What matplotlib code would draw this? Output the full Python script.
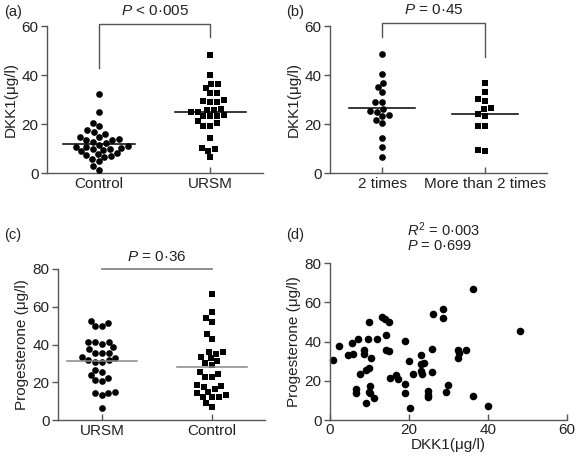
import numpy as np
import pandas as pd
import matplotlib
matplotlib.use('Agg')
import matplotlib.pyplot as plt
import seaborn as sns

plt.rcParams['font.family'] = ['Liberation Sans', 'DejaVu Sans']
plt.rcParams['font.size'] = 10
plt.rcParams['mathtext.fontset'] = 'custom'
plt.rcParams['mathtext.rm'] = 'Liberation Sans'
plt.rcParams['mathtext.it'] = 'Liberation Sans:italic'

# (a) DKK1 by group
a_groups = ['Control', 'URSM']
a_control = [32.3, 24.8, 20.4, 19.2, 17.4, 16.6, 15.8, 14.8, 14.6, 13.8, 13.6, 13.5,
             12.8, 12.2, 11.5, 11.0, 10.8, 10.5, 10.2, 10.0, 9.6, 9.2, 8.8, 8.0,
             7.6, 7.2, 6.8, 6.5, 5.8, 4.7, 2.7, 1.1]
a_ursm = [48.2, 40.0, 36.3, 36.3, 34.6, 32.5, 32.5, 29.8, 28.8, 28.8, 29.3, 26.1,
          25.7, 25.9, 25.0, 25.0, 23.3, 23.3, 23.3, 23.7, 21.2, 20.3, 19.2, 19.2,
          14.2, 9.7, 10.3, 9.0, 6.4]
a_lines = [11.8, 25.0]

# (b) DKK1 by number of miscarriages
b_groups = ['2 times', 'More than 2 times']
b_two = [48.6, 40.3, 36.6, 35.0, 32.9, 29.1, 29.1, 26.0, 25.3, 25.0, 23.3, 23.8,
         21.6, 20.3, 14.4, 10.5, 6.7]
b_more = [36.6, 32.9, 30.1, 29.5, 26.0, 26.4, 24.1, 23.3, 19.2, 19.2, 9.0, 9.4]
b_lines = [26.4, 23.9]

# (c) progesterone by group
c_groups = ['URSM', 'Control']
c_ursm = [51.2, 49.8, 49.8, 52.6, 41.5, 41.2, 38.5, 37.6, 40.3, 41.5, 35.7, 35.3,
          33.0, 31.8, 31.8, 33.6, 35.7, 30.9, 30.9, 26.5, 25.6, 22.1, 20.8, 21.2,
          23.9, 15.0, 14.1, 13.2, 14.5, 6.2]
c_control = [66.8, 57.4, 54.2, 52.1, 42.9, 45.6, 33.2, 36.2, 35.0, 36.2, 32.7, 31.4,
             29.1, 30.4, 25.6, 22.9, 22.9, 24.4, 18.5, 17.7, 18.0, 16.2, 15.0, 13.2,
             12.0, 14.1, 12.0, 12.0, 8.8, 7.1]
c_lines = [31.4, 27.9]

# (d) DKK1 vs progesterone
d_dkk1 = [0.8, 2.3, 5.5, 4.6, 5.7, 6.5, 6.6, 7.2, 8.5, 8.6, 7.6, 9.1, 9.8, 9.5, 9.9,
          10.3, 9.9, 9.1, 10.1, 10.1, 11.0, 12.0, 13.1, 14.0, 14.8, 14.1, 14.1, 14.8,
          15.2, 16.7, 17.3, 19.0, 19.0, 19.0, 20.0, 21.0, 20.3, 23.0, 23.1, 23.2,
          23.7, 23.1, 24.9, 24.9, 24.9, 25.8, 25.8, 26.0, 28.7, 28.7, 29.4, 29.8,
          32.5, 32.5, 32.7, 34.5, 36.2, 36.2, 39.9, 48.2]
d_prog = [30.5, 37.6, 39.0, 33.0, 33.6, 15.6, 13.6, 41.5, 35.6, 33.4, 23.7, 25.4,
          26.3, 41.5, 50.0, 31.4, 14.4, 8.5, 17.3, 13.6, 11.0, 41.2, 52.5, 51.4,
          50.0, 43.2, 35.6, 35.3, 21.2, 22.9, 20.7, 18.6, 13.9, 40.2, 30.0, 23.7,
          5.9, 28.3, 24.9, 23.4, 29.2, 33.0, 14.9, 12.7, 11.9, 36.4, 24.6, 53.9,
          56.8, 52.2, 14.4, 17.8, 35.9, 31.7, 34.2, 35.9, 67.0, 12.2, 7.1, 45.4]

spine_c = '#555555'
text_c = '#222222'
fs = 11
ms = 4.8


def style(ax):
    for s in ['top', 'right']:
        ax.spines[s].set_visible(False)
    for s in ['left', 'bottom']:
        ax.spines[s].set_color(spine_c)
        ax.spines[s].set_linewidth(1.0)
    ax.tick_params(colors=spine_c, labelcolor=text_c, labelsize=fs, length=4, width=1)
    ax.tick_params(axis='x', direction='in', pad=3)
    ax.tick_params(axis='y', pad=2)


def swarm(ax, groups, vals1, vals2, lines, line_c):
    df = pd.DataFrame({'g': [groups[0]] * len(vals1) + [groups[1]] * len(vals2),
                       'v': list(vals1) + list(vals2)})
    sns.swarmplot(data=df[df.g == groups[0]], x='g', y='v', order=groups, ax=ax,
                  color='k', marker='o', size=ms, linewidth=0)
    sns.swarmplot(data=df[df.g == groups[1]], x='g', y='v', order=groups, ax=ax,
                  color='k', marker='s', size=ms, linewidth=0)
    for i, m in enumerate(lines):
        ax.plot([i - 0.32, i + 0.32], [m, m], color=line_c, lw=1.1, zorder=3)
    ax.set_xlabel('')


fig = plt.figure(figsize=(5.76, 4.61), dpi=100)

# (a)
ax = fig.add_axes([0.0816, 0.6247, 0.3754, 0.3189])
swarm(ax, a_groups, a_control, a_ursm, a_lines, 'k')
ax.set_ylim(0, 60)
ax.set_yticks([0, 20, 40, 60])
ax.set_xlim(-0.466, 1.476)
ax.set_ylabel('DKK1(\u03bcg/l)', color=text_c, fontsize=fs, labelpad=3)
style(ax)
ax.plot([0, 0, 1, 1], [42.8, 60.8, 60.8, 55.4], color=spine_c, lw=1, clip_on=False)
ax.text(0.5, 66, '$P$ < 0\u00b7005', ha='center', va='center', fontsize=fs,
        color=text_c, clip_on=False)

# (b)
ax = fig.add_axes([0.573, 0.6247, 0.377, 0.3189])
swarm(ax, b_groups, b_two, b_more, b_lines, 'k')
ax.set_ylim(0, 60)
ax.set_yticks([0, 20, 40, 60])
ax.set_xlim(-0.506, 1.604)
ax.set_ylabel('DKK1(\u03bcg/l)', color=text_c, fontsize=fs, labelpad=3)
style(ax)
ax.plot([0, 0, 1, 1], [55.5, 61.4, 61.4, 47.5], color=spine_c, lw=1, clip_on=False)
ax.text(0.5, 66.5, '$P$ = 0\u00b745', ha='center', va='center', fontsize=fs,
        color=text_c, clip_on=False)

# (c)
ax = fig.add_axes([0.1007, 0.0889, 0.3594, 0.3276])
swarm(ax, c_groups, c_ursm, c_control, c_lines, '#888888')
ax.set_ylim(0, 80)
ax.set_yticks([0, 20, 40, 60, 80])
ax.set_xlim(-0.40, 1.483)
ax.set_ylabel('Progesterone (\u03bcg/l)', color=text_c, fontsize=fs, labelpad=3)
style(ax)
ax.plot([0, 1], [79.8, 79.8], color='#888888', lw=1.3, clip_on=False)
ax.text(0.5, 86.5, '$P$ = 0\u00b736', ha='center', va='center', fontsize=fs,
        color=text_c, clip_on=False)

# (d)
ax = fig.add_axes([0.573, 0.0889, 0.4115, 0.3406])
ax.scatter(d_dkk1, d_prog, s=ms ** 2 * 1.3, color='k', linewidths=0, clip_on=False)
ax.set_xlim(0, 60)
ax.set_ylim(0, 80)
ax.set_xticks([0, 20, 40, 60])
ax.set_yticks([0, 20, 40, 60, 80])
ax.set_xlabel('DKK1(\u03bcg/l)', color=text_c, fontsize=fs, labelpad=1)
ax.set_ylabel('Progesterone (\u03bcg/l)', color=text_c, fontsize=fs, labelpad=3)
style(ax)
ax.tick_params(axis='x', pad=2)
ax.text(19.4, 96.8, '$R^2$ = 0\u00b7003', ha='left', va='center', fontsize=10.5,
        color=text_c, clip_on=False)
ax.text(19.4, 88.6, '$P$ = 0\u00b7699', ha='left', va='center', fontsize=10.5,
        color=text_c, clip_on=False)

# panel letters
for lab, x, y in [('(a)', 0.008, 0.975), ('(b)', 0.497, 0.975),
                  ('(c)', 0.008, 0.49), ('(d)', 0.497, 0.49)]:
    fig.text(x, y, lab, ha='left', va='center', fontsize=10.5, color=text_c)

fig.savefig('out.png', dpi=100)
